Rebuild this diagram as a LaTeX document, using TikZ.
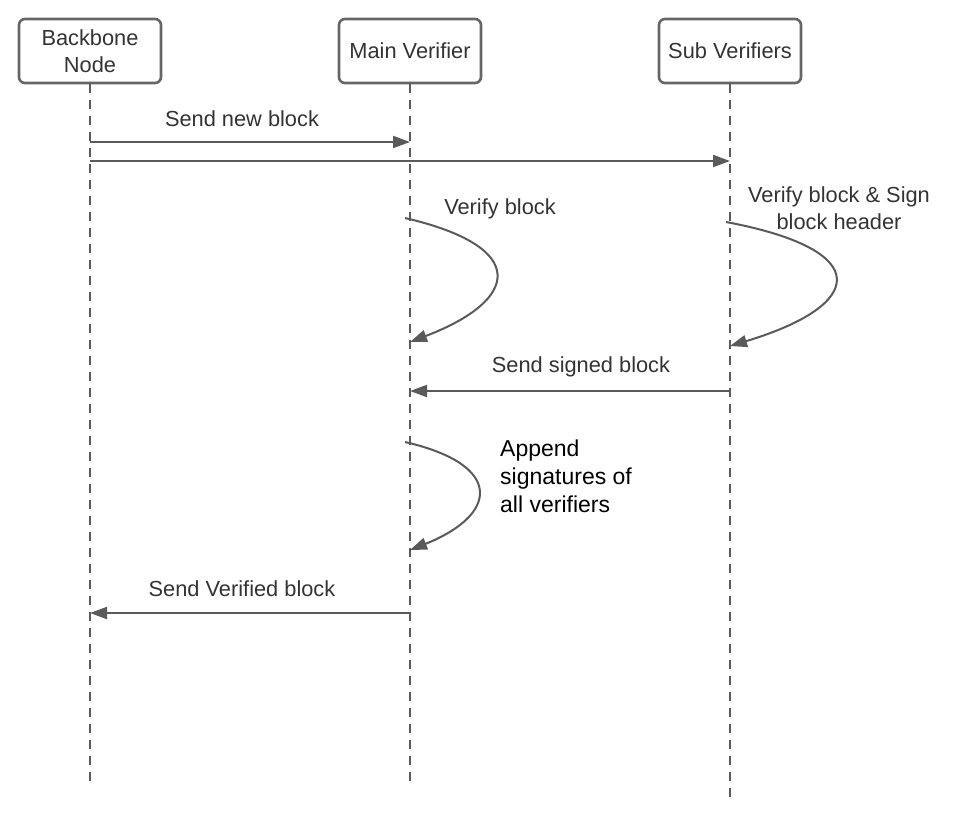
\documentclass[tikz,border=0pt]{standalone}
\usepackage{fontspec}
\setmainfont{Liberation Sans}
\usetikzlibrary{arrows.meta}
\definecolor{linegray}{HTML}{5A5A5A}
\definecolor{boxgray}{HTML}{666666}
\definecolor{textgray}{HTML}{333333}
\tikzset{
  actor/.style={draw=boxgray, line width=2.6pt, rounded corners=6pt, fill=white,
    minimum width=142pt, minimum height=64pt, align=center, inner sep=2pt},
  lifeline/.style={draw=linegray, line width=2pt, dash pattern=on 9pt off 7pt},
  msg/.style={draw=linegray, line width=2pt, ->},
  lbl/.style={text=textgray, inner sep=0pt}
}
\begin{document}
\begin{tikzpicture}[x=1pt, y=-1pt, >={Triangle[length=17pt,width=12pt]},
    font=\fontsize{21.8}{27}\selectfont]
    \useasboundingbox (0,0) rectangle (963,812);
    % 参加者
    \node[actor, text=textgray] (bb) at (90,51) {Backbone\\Node};
    \node[actor, text=textgray] (mv) at (410,51) {Main Verifier};
    \node[actor, text=textgray] (sv) at (730,51) {Sub Verifiers};
    % ライフラインの端
    \coordinate (bbend) at (90,781);
    \coordinate (mvend) at (410,781);
    \coordinate (svend) at (730,803);
    \draw[lifeline] (bb.south) -- (bbend);
    \draw[lifeline] (mv.south) -- (mvend);
    \draw[lifeline] (sv.south) -- (svend);
    % 新しいブロックの送信
    \coordinate (bb1) at (90,142);
    \coordinate (mv1) at (410,142);
    \coordinate (bb2) at (90,161);
    \coordinate (sv2) at (730,161);
    \draw[msg] (bb1) -- (mv1);
    \draw[msg] (bb2) -- (sv2);
    \node[lbl] (sendnew) at (242,119) {Send new block};
    % 検証（Main Verifier）
    \coordinate (mv2a) at (405,218);
    \coordinate (mv2b) at (410,342);
    \draw[msg] (mv2a) .. controls (530,247) and (520,300) .. (mv2b);
    \node[lbl] (verify) at (500,209) {Verify block};
    % 検証と署名（Sub Verifiers）
    \coordinate (sv3a) at (726,222);
    \coordinate (sv3b) at (730,346);
    \draw[msg] (sv3a) .. controls (875,250) and (866,305) .. (sv3b);
    \node[lbl, align=center] (versign) at (839,208) {Verify block \& Sign\\block header};
    % 署名済みブロックの返送
    \coordinate (sv4) at (730,391);
    \coordinate (mv4) at (410,391);
    \draw[msg] (sv4) -- (mv4);
    \node[lbl] (sendsigned) at (581,367) {Send signed block};
    % 署名の追加
    \coordinate (mv5a) at (405,442);
    \coordinate (mv5b) at (410,550);
    \draw[msg] (mv5a) .. controls (505,465) and (498,515) .. (mv5b);
    \node[lbl, align=left, anchor=north west, text=black,
      font=\fontsize{23}{28}\selectfont] (append) at (500,440)
      {Append\\signatures of\\all verifiers};
    % 検証済みブロックの送信
    \coordinate (mv6) at (410,613);
    \coordinate (bb6) at (90,613);
    \draw[msg] (mv6) -- (bb6);
    \node[lbl] (sendver) at (242,589) {Send Verified block};
  \end{tikzpicture}
\end{document}
